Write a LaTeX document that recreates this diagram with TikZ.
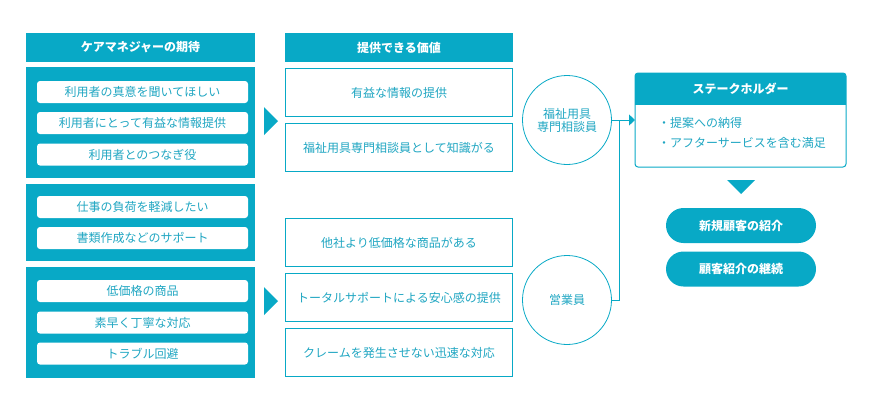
\documentclass[tikz,border=0pt]{standalone}
\usepackage{fontspec}
\setmainfont{Noto Sans CJK JP}
\usetikzlibrary{arrows.meta,calc}
\definecolor{tealc}{HTML}{08A9C6}
\definecolor{tealtx}{HTML}{1FA6C2}
\tikzset{
  hdr/.style={fill=tealc, text=white, font=\fontsize{12}{14}\selectfont\bfseries, minimum width=229pt, minimum height=29pt, inner sep=0pt, outer sep=0pt},
  grp/.style={fill=tealc, minimum width=229pt, inner sep=0pt, outer sep=0pt},
  pill/.style={fill=white, rounded corners=3pt, text=tealtx, font=\fontsize{12}{14}\selectfont, minimum width=211pt, minimum height=22pt, inner sep=0pt},
  valbox/.style={draw=tealc, line width=1pt, fill=white, text=tealtx, font=\fontsize{12}{14}\selectfont, minimum width=227pt, minimum height=48pt, inner sep=0pt},
  who/.style={circle, draw=tealc, line width=0.8pt, minimum size=89pt, inner sep=0pt, text=tealtx, font=\fontsize{12}{13}\selectfont, align=center},
  result/.style={fill=tealc, rounded corners=17.5pt, text=white, font=\fontsize{12}{14}\selectfont\bfseries, minimum width=150pt, minimum height=35pt, inner sep=0pt},
  bullet/.style={anchor=west, text=tealtx, font=\fontsize{12}{14}\selectfont, inner sep=0pt},
  conn/.style={draw=tealc, line width=1pt},
  marker/.style={fill=tealc}
}
\begin{document}
\begin{tikzpicture}[x=1pt,y=-1pt]
\useasboundingbox (0,0) rectangle (870,410);
% left column
\node[hdr] (lh) at (140.5,47.5) {ケアマネジャーの期待};
\node[grp, minimum height=111pt] (g1) at (140.5,122.5) {};
\node[grp, minimum height=77pt] (g2) at (140.5,222.5) {};
\node[grp, minimum height=111pt] (g3) at (140.5,322.5) {};
\node[pill] (p1) at (142.5,92) {利用者の真意を聞いてほしい};
\node[pill] (p2) at (142.5,123) {利用者にとって有益な情報提供};
\node[pill] (p3) at (142.5,154.5) {利用者とのつなぎ役};
\node[pill] (p4) at (142.5,207) {仕事の負荷を軽減したい};
\node[pill] (p5) at (142.5,238) {書類作成などのサポート};
\node[pill] (p6) at (142.5,291) {低価格の商品};
\node[pill] (p7) at (142.5,322.5) {素早く丁寧な対応};
\node[pill] (p8) at (142.5,353.5) {トラブル回避};
% arrows between columns
\fill[marker] (264,107) -- (278,121) -- (264,135) -- cycle;
\fill[marker] (264,287) -- (278,301) -- (264,315) -- cycle;
% middle column
\node[hdr, minimum width=228pt] (mh) at (399,47.5) {提供できる価値};
\node[valbox] (v1) at (399,92.5) {有益な情報の提供};
\node[valbox] (v2) at (399,147.5) {福祉用具専門相談員として知識がる};
\node[valbox] (v3) at (399,242.5) {他社より低価格な商品がある};
\node[valbox] (v4) at (399,297.5) {トータルサポートによる安心感の提供};
\node[valbox] (v5) at (399,352.5) {クレームを発生させない迅速な対応};
% circles
\node[who] (c1) at (567,120) {福祉用具\\専門相談員};
\node[who] (c2) at (567,300) {営業員};
% stakeholder box
\node[minimum width=211pt, minimum height=94pt, inner sep=0pt, outer sep=0pt] (sh) at (740.5,120) {};
\begin{scope}
\clip[rounded corners=3pt] (sh.north west) rectangle (sh.south east);
\fill[tealc] (sh.north west) rectangle ($(sh.north east)+(0,32)$);
\end{scope}
\draw[tealc, line width=1pt, rounded corners=3pt] (sh.north west) rectangle (sh.south east);
\node[text=white, font=\fontsize{12}{14}\selectfont\bfseries] (shh) at (740.5,89) {ステークホルダー};
\node[bullet] (b1) at (658,123) {・提案への納得};
\node[bullet] (b2) at (658,143) {・アフターサービスを含む満足};
% connectors
\draw[conn] (c1.east) -- (619,120) coordinate (j1);
\draw[conn] (c2.east) -| (j1);
\draw[conn, -{Triangle[length=6pt,width=11pt]}] (j1) -- (sh.west |- j1);
% down marker
\fill[marker] (727,180) -- (755,180) -- (741,194) -- cycle;
% results
\node[result] (r1) at (741,225.5) {新規顧客の紹介};
\node[result] (r2) at (741,269) {顧客紹介の継続};
\end{tikzpicture}
\end{document}
